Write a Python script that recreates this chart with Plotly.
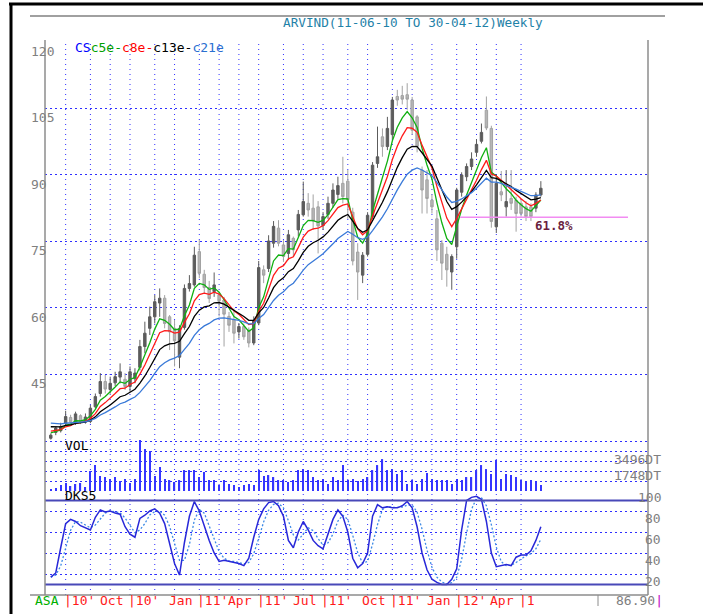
import plotly.graph_objects as go

W, H = 710, 614

# ---------------- data ----------------
bars = list(range(100))
opens = [30.5, 31.8, 32.2, 33.9, 35.2, 34.0, 35.6, 34.2, 34.3, 37.6,
         40.6, 43.3, 41.5, 43.0, 44.3, 43.8, 42.2, 43.9, 46.5, 51.2,
         55.3, 57.9, 61.0, 62.1, 57.9, 55.3, 48.8, 55.5, 64.3, 65.1,
         72.6, 67.5, 64.5, 63.6, 62.8, 61.7, 58.0, 57.2, 54.5, 55.7,
         54.9, 52.0, 56.5, 68.5, 68.8, 74.5, 77.9, 74.1, 72.2, 75.6,
         77.5, 80.9, 83.5, 82.4, 82.7, 78.5, 81.0, 83.5, 85.5, 88.0,
         88.5, 81.5, 72.5, 67.3, 72.0, 80.5, 92.5, 98.5, 96.3, 99.0,
         107.6, 107.8, 108.0, 106.8, 103.0, 91.0, 88.8, 84.2, 80.0, 74.5,
         72.0, 68.0, 73.7, 86.0, 89.5, 91.8, 95.0, 97.5, 104.5, 100.4,
         78.2, 86.1, 82.7, 84.6, 84.2, 83.5, 82.7, 82.7, 82.4, 85.4]
highs = [31.6, 33.1, 34.0, 36.7, 35.8, 36.5, 35.9, 36.1, 38.0, 40.6,
         45.2, 44.8, 44.4, 45.5, 47.4, 45.2, 46.7, 46.3, 52.7, 56.8,
         60.2, 62.8, 64.3, 62.8, 58.3, 57.2, 56.0, 65.2, 67.3, 73.7,
         75.2, 68.5, 66.0, 67.9, 63.5, 62.4, 59.0, 59.8, 56.5, 56.4,
         55.5, 58.0, 70.5, 69.5, 76.3, 79.5, 79.7, 75.2, 77.5, 76.0,
         82.0, 88.4, 85.8, 85.5, 84.0, 81.5, 85.0, 88.0, 89.5, 94.0,
         91.0, 82.5, 74.5, 72.5, 81.5, 92.8, 100.8, 100.4, 103.0, 107.5,
         109.1, 110.0, 110.6, 107.5, 103.4, 91.8, 91.0, 85.5, 82.0, 75.2,
         73.7, 72.0, 87.0, 90.5, 92.5, 95.0, 98.0, 101.5, 107.6, 101.0,
         90.0, 90.8, 91.0, 91.0, 85.0, 84.5, 84.0, 83.5, 86.0, 88.5]
lows = [30.2, 31.2, 31.8, 33.5, 33.5, 33.5, 33.7, 33.8, 33.9, 37.3,
        39.9, 40.6, 40.6, 42.3, 42.9, 41.4, 41.0, 42.9, 45.8, 49.7,
        53.8, 56.4, 57.9, 55.3, 50.4, 46.7, 46.3, 55.0, 63.6, 64.7,
        66.6, 63.2, 61.0, 62.4, 58.0, 51.2, 54.5, 51.9, 53.0, 52.7,
        51.0, 51.5, 56.0, 65.5, 68.0, 73.5, 73.8, 70.3, 70.7, 71.5,
        76.0, 80.5, 80.5, 77.5, 72.2, 77.5, 80.0, 82.5, 84.5, 83.5,
        80.0, 69.5, 61.7, 65.5, 71.5, 80.0, 91.5, 94.0, 95.5, 98.0,
        105.5, 105.8, 104.6, 99.0, 95.0, 81.2, 81.2, 81.2, 70.5, 66.2,
        64.7, 64.0, 71.0, 85.0, 88.5, 91.0, 94.0, 97.0, 100.0, 78.0,
        76.8, 84.0, 80.5, 82.0, 77.1, 80.5, 79.5, 79.5, 81.5, 85.0]
closes = [31.2, 32.8, 33.1, 35.4, 34.2, 36.0, 34.3, 35.3, 37.3, 39.9,
          43.3, 41.6, 42.9, 44.4, 45.5, 42.2, 45.5, 45.2, 51.2, 54.2,
          57.9, 61.3, 62.1, 56.4, 54.5, 52.5, 55.3, 64.3, 65.4, 71.8,
          67.7, 64.5, 62.0, 65.1, 61.5, 58.5, 56.0, 54.2, 55.7, 53.4,
          52.0, 57.0, 69.0, 67.3, 75.0, 78.3, 74.5, 71.5, 76.4, 73.0,
          81.0, 83.9, 82.0, 79.5, 78.4, 80.5, 83.5, 86.5, 87.5, 85.0,
          84.3, 70.5, 68.0, 71.8, 80.8, 92.1, 94.0, 96.3, 100.4, 106.8,
          106.8, 107.0, 107.0, 100.0, 96.3, 86.5, 84.6, 82.7, 73.0, 70.0,
          68.5, 71.5, 86.5, 89.9, 91.8, 93.5, 96.8, 99.5, 100.5, 79.4,
          88.0, 85.4, 83.9, 83.5, 81.2, 81.2, 80.5, 80.5, 85.4, 86.9]
volumes = [218, 327, 654, 872, 545, 763, 872, 436, 2180, 2834,
           1635, 1526, 1308, 1526, 1090, 1308, 872, 1308, 5559, 4578,
           4360, 1635, 2616, 1308, 1199, 981, 1199, 2289, 2289, 2289,
           1526, 2071, 1199, 1199, 654, 1199, 763, 654, 436, 654,
           763, 654, 2289, 1635, 1744, 1526, 1199, 1199, 981, 1199,
           2289, 2398, 2289, 1526, 1199, 1308, 763, 1526, 1199, 2834,
           1199, 1308, 1090, 1308, 1526, 2289, 2834, 3488, 2289, 2398,
           1853, 2289, 763, 1199, 763, 1308, 1962, 1308, 1199, 1199,
           1199, 763, 1308, 1199, 1526, 1526, 2289, 2834, 2398, 1853,
           3379, 1308, 1853, 1744, 1526, 1199, 981, 1199, 981, 654]
stoch_k = [27, 31, 55, 78, 82, 80, 76, 74, 72, 84,
           91, 89, 90, 88, 87, 75, 68, 65, 83, 86,
           90, 92, 88, 78, 60, 40, 29, 60, 85, 99,
           90, 75, 62, 50, 42, 43, 42, 41, 40, 38,
           45, 65, 82, 92, 98, 99, 95, 85, 62, 55,
           70, 80, 72, 62, 57, 54, 68, 82, 91, 85,
           70, 45, 36, 40, 50, 85, 96, 93, 94, 93,
           93, 95, 99, 93, 75, 50, 34, 25, 22, 20,
           20, 25, 35, 72, 100, 103, 104, 101, 80, 50,
           37, 38, 39, 38, 46, 48, 48, 52, 62, 75]

ema_periods = [5, 8, 13, 21]
ema_first = [31.7, 32.1, 33.1, 33.9]
ema_colors = ["#10b010", "#ff1a1a", "#000000", "#3a7ad8"]

month_start_bars = [3, 8, 12, 16, 21, 25, 30, 34, 38, 42, 47, 51, 55, 60,
                    64, 69, 73, 77, 82, 86, 90, 95]
label_bars = [3, 16, 30, 42, 55, 69, 82, 95]
label_months = ["ASA", "Oct", "Jan", "Apr", "Jul", "Oct", "Jan", "Apr"]
label_years = ["|10'", "|10'", "|11'", "|11'", "|11'", "|11'", "|12'", "|1"]
price_ticks = [120, 105, 90, 75, 60, 45]
price_grid = [105, 90, 75, 60, 45]
stoch_ticks = [100, 80, 60, 40, 20]
stoch_grid = [90, 70, 50, 30, 10]
stoch_levels = [100, 20]
vol_ticks = [3496, 1748]
vol_tick_text = ["3496DT", "1748DT"]
fib_level = 80.35
fib_from, fib_to = 82.7, 116.6
fib_text = "61.8%"
last_close_text = "86.90"
title_text = "ARVIND(11-06-10 TO 30-04-12)Weekly"

# ---------------- derived indicators ----------------
emas = []
for n, start in zip(ema_periods, ema_first):
    a = 2.0 / (n + 1)
    e = [start]
    for c in closes[1:]:
        e.append(e[-1] + a * (c - e[-1]))
    emas.append(e)

stoch_d = []
for i in range(len(stoch_k)):
    w = stoch_k[max(0, i - 2):i + 1]
    stoch_d.append(sum(w) / len(w))


def fx(px):
    return px / W


def fy(py):
    return 1 - py / H


MONO = "DejaVu Sans Mono"
GRID = "#2f2fff"

fig = go.Figure()
fig.add_trace(go.Candlestick(
    x=bars, open=opens, high=highs, low=lows, close=closes,
    increasing=dict(line=dict(color="#5c5c5c", width=1), fillcolor="#5c5c5c"),
    decreasing=dict(line=dict(color="#a2a2a2", width=1), fillcolor="#b6b6b6"),
    whiskerwidth=0, showlegend=False))
for e, col in zip(emas, ema_colors):
    fig.add_trace(go.Scatter(x=bars, y=e, mode="lines",
                             line=dict(color=col, width=1.3), showlegend=False))
fig.add_trace(go.Bar(x=bars, y=volumes, width=0.25, yaxis="y2",
                     marker=dict(color="#3535ff", line=dict(width=0)),
                     showlegend=False))
fig.add_trace(go.Scatter(x=bars, y=stoch_d, yaxis="y3", mode="lines",
                         line=dict(color="#3d8ae6", width=1.3, dash="2px,2px"),
                         showlegend=False))
fig.add_trace(go.Scatter(x=bars, y=stoch_k, yaxis="y3", mode="lines",
                         line=dict(color="#2828d8", width=1.5), showlegend=False))

shapes = []
for b in month_start_bars:
    shapes.append(dict(type="line", xref="x", yref="paper", x0=b, x1=b,
                       y0=fy(595), y1=fy(42), layer="below",
                       line=dict(color=GRID, width=1, dash="1px,4px")))
for lv in stoch_levels:
    shapes.append(dict(type="line", xref="paper", yref="y3", x0=fx(45), x1=fx(648),
                       y0=lv, y1=lv, line=dict(color="#4848b8", width=2)))
shapes.append(dict(type="line", xref="x", yref="y", x0=fib_from, x1=fib_to,
                   y0=fib_level, y1=fib_level, line=dict(color="#f28cf2", width=1.5)))
axis_gray = "#8c8c8c"
shapes += [
    dict(type="line", xref="paper", yref="paper", x0=fx(45), x1=fx(45),
         y0=fy(595), y1=fy(40), line=dict(color=axis_gray, width=1.5)),
    dict(type="line", xref="paper", yref="paper", x0=fx(648), x1=fx(648),
         y0=fy(595), y1=fy(40), line=dict(color=axis_gray, width=1.5)),
    dict(type="line", xref="paper", yref="paper", x0=fx(30), x1=fx(648),
         y0=fy(595), y1=fy(595), line=dict(color=axis_gray, width=1.5)),
    dict(type="line", xref="paper", yref="paper", x0=fx(598), x1=fx(598),
         y0=fy(595), y1=fy(606), line=dict(color=axis_gray, width=1)),
    dict(type="line", xref="paper", yref="paper", x0=fx(30), x1=fx(665),
         y0=fy(16), y1=fy(16), line=dict(color="#808080", width=1.5)),
    dict(type="line", xref="paper", yref="paper", x0=fx(9), x1=fx(703),
         y0=fy(4), y1=fy(4), line=dict(color="#000000", width=3)),
    dict(type="line", xref="paper", yref="paper", x0=fx(11), x1=fx(11),
         y0=fy(4), y1=fy(614), line=dict(color="#000000", width=3)),
]

ann = []
ann.append(dict(text=title_text, xref="paper", yref="paper", x=fx(413), y=fy(22),
                xanchor="center", yanchor="middle", showarrow=False,
                font=dict(family=MONO, size=12.7, color="#1f82a8")))
legend_html = ("<span style='color:#0000ff'>CS</span>"
               "<span style='color:#00a000'>c5e-</span>"
               "<span style='color:#ff0000'>c8e-</span>"
               "<span style='color:#000000'>c13e-</span>"
               "<span style='color:#2a6fd0'>c21e</span>")
ann.append(dict(text=legend_html, xref="paper", yref="paper", x=fx(73), y=fy(47),
                xanchor="left", yanchor="middle", showarrow=False,
                font=dict(family=MONO, size=13)))
for t in price_ticks:
    ann.append(dict(text=str(t), xref="paper", yref="y", x=fx(29), y=t,
                    xanchor="left", yanchor="top", showarrow=False,
                    font=dict(family=MONO, size=13, color="#808080")))
ann.append(dict(text="VOL", xref="paper", yref="paper", x=fx(63), y=fy(445),
                xanchor="left", yanchor="middle", showarrow=False,
                font=dict(family=MONO, size=13, color="#000000")))
ann.append(dict(text="DKS5", xref="paper", yref="paper", x=fx(63), y=fy(495),
                xanchor="left", yanchor="middle", showarrow=False,
                font=dict(family=MONO, size=13, color="#000000")))
for v, t in zip(vol_ticks, vol_tick_text):
    ann.append(dict(text=t, xref="paper", yref="y2", x=fx(663), y=v,
                    xanchor="right", yanchor="middle", showarrow=False,
                    font=dict(family=MONO, size=13, color="#808080")))
for v in stoch_ticks:
    ann.append(dict(text=str(v), xref="paper", yref="y3", x=fx(663), y=v,
                    xanchor="right", yanchor="middle", yshift=3, showarrow=False,
                    font=dict(family=MONO, size=13, color="#808080")))
for b, m, yr in zip(label_bars, label_months, label_years):
    mcol = "#00b000" if m == "ASA" else "#ff1a1a"
    ann.append(dict(text=m, xref="x", yref="paper", x=b, y=fy(600),
                    xanchor="right", xshift=-5, yanchor="middle", showarrow=False,
                    font=dict(family=MONO, size=13, color=mcol)))
    ann.append(dict(text=yr, xref="x", yref="paper", x=b, y=fy(600),
                    xanchor="left", xshift=-4, yanchor="middle", showarrow=False,
                    font=dict(family=MONO, size=13, color="#ff1a1a")))
ann.append(dict(text=last_close_text + "<span style='color:#c000c0'>|</span>",
                xref="paper", yref="paper", x=fx(665), y=fy(600),
                xanchor="right", yanchor="middle", showarrow=False,
                font=dict(family=MONO, size=13, color="#808080")))
ann.append(dict(text="<b>" + fib_text + "</b>", xref="x", yref="y",
                x=(fib_from + fib_to) / 2 + 2, y=fib_level, yshift=-8,
                xanchor="center", yanchor="middle", showarrow=False,
                font=dict(family=MONO, size=12.5, color="#6b1f3f")))

fig.update_layout(
    width=W, height=H, margin=dict(l=0, r=0, t=0, b=0, pad=0),
    paper_bgcolor="white", plot_bgcolor="rgba(0,0,0,0)",
    showlegend=False, shapes=shapes, annotations=ann,
    xaxis=dict(domain=[fx(45), fx(648)], range=[-1.1717, 120.646],
               showgrid=False, zeroline=False, showticklabels=False,
               showline=False, ticks="", rangeslider=dict(visible=False),
               anchor="y", fixedrange=True),
    yaxis=dict(domain=[fy(442), fy(40)], range=[29.66, 120.34],
               tickvals=price_grid, showticklabels=False, ticks="",
               showgrid=True, gridcolor=GRID, gridwidth=1, griddash="2px,3px",
               zeroline=False, showline=False, anchor="x", fixedrange=True),
    yaxis2=dict(domain=[fy(491), fy(437)], range=[0, 5900],
                tick0=0, dtick=1092.6, showticklabels=False, ticks="",
                showgrid=True, gridcolor=GRID, gridwidth=1, griddash="2px,3px",
                zeroline=False, showline=False, anchor="x", fixedrange=True),
    yaxis3=dict(domain=[fy(595), fy(494)], range=[10, 106.19],
                tickvals=stoch_grid, showticklabels=False, ticks="",
                showgrid=True, gridcolor=GRID, gridwidth=1, griddash="2px,3px",
                zeroline=False, showline=False, anchor="x", fixedrange=True),
)

fig.write_html("out.html", config={"displayModeBar": False},
               post_script="document.body.style.margin='0px';"
                           "document.body.style.padding='0px';")
